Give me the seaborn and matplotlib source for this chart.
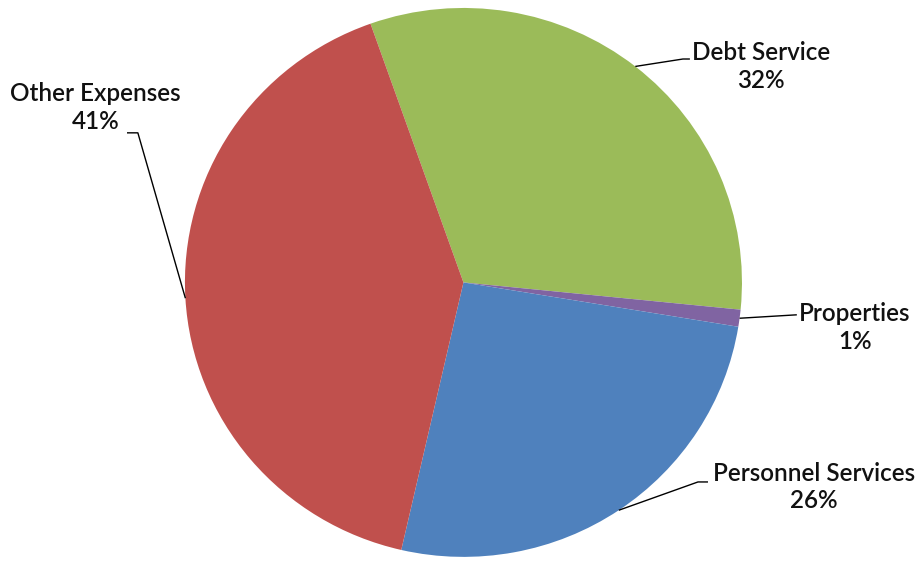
import numpy as np
import matplotlib
matplotlib.use("Agg")
import matplotlib.pyplot as plt
import seaborn as sns

# Budget share by expense category (percent)
categories = ["Debt Service", "Properties", "Personnel Services", "Other Expenses"]
shares = [32, 1, 26, 41]
colors = ["#9BBB59", "#8064A2", "#4F81BD", "#C0504D"]

# Label layout (data units, pie radius = 1): text centre, leader bend, leader end
label_text_pos = [(1.068, 0.787), (1.406, -0.164), (1.259, -0.745), (-1.320, 0.636)]
leader_bend = [(0.788, 0.814), (1.197, -0.118), (0.842, -0.727), (-1.169, 0.545)]
leader_end = [(0.813, 0.814), (1.197, -0.118), (0.878, -0.727), (-1.208, 0.545)]

sns.set_theme(style="white")
plt.rcParams["font.family"] = ["Lato", "DejaVu Sans"]

fig = plt.figure(figsize=(9.23, 5.61), dpi=100)
fig.patch.set_facecolor("white")
ax = fig.add_axes([0, 0, 1, 1])

palette = sns.color_palette(colors)
wedges, _ = ax.pie(
    shares,
    colors=palette,
    startangle=109.5,
    counterclock=False,
    wedgeprops=dict(linewidth=0),
)

# Slightly wider than tall, as drawn
ax.set_aspect("auto")
ax.set_xlim(-1.664, 1.650)
ax.set_ylim(-1.015, 1.029)
ax.axis("off")

for w, name, val, tpos, bend, end in zip(
    wedges, categories, shares, label_text_pos, leader_bend, leader_end
):
    mid = np.deg2rad((w.theta1 + w.theta2) / 2)
    start = (np.cos(mid), np.sin(mid))
    ax.plot([start[0], bend[0], end[0]], [start[1], bend[1], end[1]],
            color="black", lw=1.0, solid_capstyle="butt")
    ax.text(tpos[0], tpos[1], f"{name}\n{val}%", ha="center", va="center",
            fontsize=17.5, fontweight="semibold", color="#111111",
            linespacing=1.25)

fig.savefig("out.png", dpi=100, facecolor="white")
